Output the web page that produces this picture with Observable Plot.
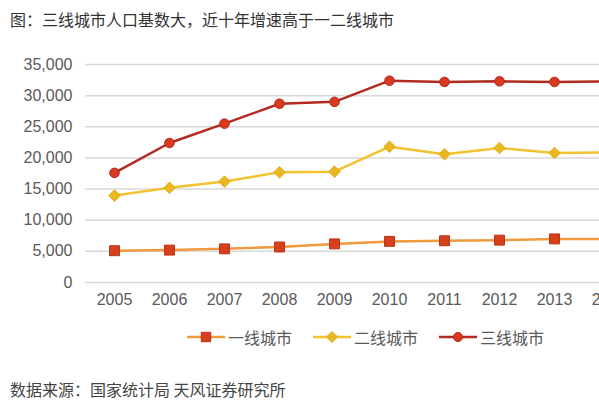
<!DOCTYPE html>
<html>
<head>
<meta charset="utf-8">
<script src="https://cdn.jsdelivr.net/npm/d3@7"></script>
<script src="https://cdn.jsdelivr.net/npm/@observablehq/plot@0.6"></script>
<style>
  html, body { margin: 0; padding: 0; background: #fff; }
  #wrap { position: relative; width: 599px; height: 400px; overflow: hidden; background: #fff;
          font-family: "Noto Sans CJK SC", "Liberation Sans", sans-serif; }
  #title { position: absolute; left: 10px; top: 9px; font-size: 16px; line-height: 20px; color: #333; white-space: nowrap; }
  #chart { position: absolute; left: 0; top: 0; width: 640px; }
  #chart svg { max-width: none !important; }
  #legend { position: absolute; left: 187px; top: 327px; display: flex; gap: 21px; font-size: 16px; line-height: 20px; color: #595959; white-space: nowrap; }
  #legend .item { display: flex; align-items: center; gap: 3px; }
  #caption { position: absolute; left: 10px; top: 379px; font-size: 16px; line-height: 20px; color: #444; white-space: nowrap; }
</style>
</head>
<body>
<div id="wrap">
  <div id="chart"></div>
  <div id="title"></div>
  <div id="legend"></div>
  <div id="caption"></div>
</div>
<script>
const titleText = "图：三线城市人口基数大，近十年增速高于一二线城市";
const captionText = "数据来源：国家统计局 天风证券研究所";

const years = ["2005", "2006", "2007", "2008", "2009", "2010", "2011", "2012", "2013", "2014"];
const yTicks = [0, 5000, 10000, 15000, 20000, 25000, 30000, 35000];

const seriesNames = ["一线城市", "二线城市", "三线城市"];
const tier1 = [5100, 5200, 5400, 5700, 6200, 6600, 6700, 6800, 7000, 7000];
const tier2 = [13950, 15200, 16200, 17700, 17800, 21800, 20600, 21600, 20800, 20900];
const tier3 = [17600, 22400, 25500, 28700, 29000, 32400, 32200, 32300, 32200, 32300];

const styles = [
  { line: "#ef9a3c", fill: "#d8401c", stroke: "#b8321a", symbol: "square", r: 5.6 },
  { line: "#f2c230", fill: "#e9b820", stroke: "#e0ac18", symbol: "diamond2", r: 5.2 },
  { line: "#b32a22", fill: "#d9391e", stroke: "#b02a1e", symbol: "circle", r: 4.8 }
];

const values = [tier1, tier2, tier3];
const data = seriesNames.flatMap((name, s) =>
  years.map((year, i) => ({ series: name, year, value: values[s][i] })));

document.getElementById("title").textContent = titleText;
document.getElementById("caption").textContent = captionText;

const chart = Plot.plot({
  width: 640,
  height: 320,
  marginLeft: 85,
  marginRight: 2,
  marginTop: 64,
  marginBottom: 38,
  style: { fontFamily: "'Liberation Sans', Arial, sans-serif", fontSize: "16px", color: "#595959", background: "transparent", maxWidth: "none" },
  x: { type: "point", domain: years, padding: 0.5, label: null, tickSize: 0, tickPadding: 11 },
  y: { domain: [0, 35000], ticks: yTicks, tickFormat: d3.format(","), label: null, tickSize: 0, tickPadding: 13 },
  marks: [
    Plot.ruleY(yTicks, { stroke: "#d9d9d9", strokeWidth: 1.5 }),
    ...seriesNames.map((name, s) => Plot.line(data.filter(d => d.series === name), {
      x: "year", y: "value", stroke: styles[s].line, strokeWidth: 2.5
    })),
    ...seriesNames.map((name, s) => Plot.dot(data.filter(d => d.series === name), {
      x: "year", y: "value", symbol: styles[s].symbol, r: styles[s].r,
      fill: styles[s].fill, stroke: styles[s].stroke, strokeWidth: 1
    }))
  ]
});
chart.style.maxWidth = "none";
document.getElementById("chart").appendChild(chart);

// Legend
const legend = d3.select("#legend");
seriesNames.forEach((name, s) => {
  const item = legend.append("div").attr("class", "item");
  const svg = item.append("svg").attr("width", 38).attr("height", 14);
  svg.append("line").attr("x1", 0).attr("x2", 38).attr("y1", 7).attr("y2", 7)
    .attr("stroke", styles[s].line).attr("stroke-width", 2.5);
  const sym = { square: d3.symbolSquare, diamond2: d3.symbolDiamond2, circle: d3.symbolCircle }[styles[s].symbol];
  svg.append("path")
    .attr("d", d3.symbol(sym, Math.PI * styles[s].r * styles[s].r * 0.9)())
    .attr("transform", "translate(19,7)")
    .attr("fill", styles[s].fill).attr("stroke", styles[s].stroke);
  item.append("span").text(name);
});
</script>
</body>
</html>
